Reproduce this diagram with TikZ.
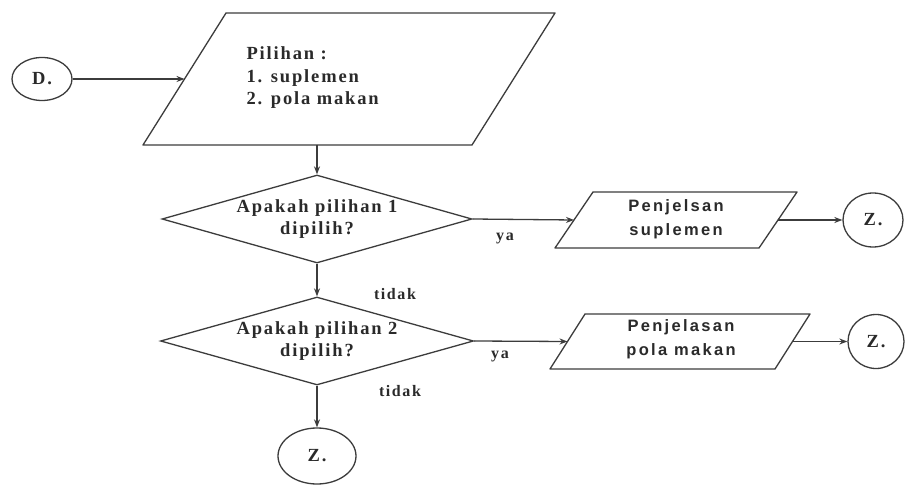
\documentclass[tikz,border=0pt]{standalone}
\usepackage{fontspec}
\setmainfont{Liberation Serif}
\setsansfont{Liberation Sans}
\newfontfamily\spsans[LetterSpace=14]{Liberation Sans}
\newfontfamily\spserif[LetterSpace=10]{Liberation Serif}
\usetikzlibrary{shapes.geometric,arrows.meta}
\definecolor{lc}{HTML}{3C3C3C}
\definecolor{tc}{HTML}{2A2A2A}
\begin{document}
\begin{tikzpicture}[x=1pt,y=-1pt,
  line/.style={draw=lc, line width=1.3pt},
  arr/.style={line, -{Stealth[length=8pt,width=6pt]}},
  decision/.style={line, shape=diamond, inner sep=0pt},
  term/.style={line, shape=ellipse, inner sep=0pt},
  serift/.style={text=tc, font=\spserif\bfseries\fontsize{18.5}{22.5}\selectfont},
  sanst/.style={text=tc, font=\spsans\bfseries\fontsize{16.5}{24}\selectfont},
  smallt/.style={text=tc, font=\spserif\bfseries\fontsize{16}{18}\selectfont}
]
\useasboundingbox[fill=white] (0,0) rectangle (907,489);

% start terminal
\node[term, minimum width=60pt, minimum height=43pt] (D) at (42,79) {};
\node[serift] (Dt) at (D) {D.};

% input parallelogram
\draw[line, line join=round] (143,145) -- (226,13) -- (555,13) -- (472,145) -- cycle;
\coordinate (P0in) at (184.5,79);
\coordinate (P0out) at (317,145);
\node[serift, align=left, anchor=west] (P0t) at (243,78) {Pilihan :\\1. suplemen\\2. pola makan};

% decisions
\node[decision, minimum width=310pt, minimum height=88pt] (d1) at (317,219) {};
\node[serift, align=center] (d1t) at (d1) {Apakah pilihan 1\\dipilih?};

\node[decision, minimum width=313pt, minimum height=88pt] (d2) at (317,341) {};
\node[serift, align=center] (d2t) at (d2) {Apakah pilihan 2\\dipilih?};

% output parallelograms
\draw[line, line join=round] (555,248) -- (593,192) -- (797,192) -- (759,248) -- cycle;
\coordinate (p1in) at (574,220);
\coordinate (p1out) at (778,220);
\node[sanst, align=center] (p1t) at (676,219) {Penjelsan\\suplemen};

\draw[line, line join=round] (550,369) -- (585,314) -- (810,314) -- (775,369) -- cycle;
\coordinate (p2in) at (567.5,341.5);
\coordinate (p2out) at (792.5,341.5);
\node[sanst, align=center] (p2t) at (681,339) {Penjelasan\\pola makan};

% end terminals
\node[term, minimum width=60pt, minimum height=54pt] (z1) at (873,220) {};
\node[serift] (z1t) at (z1) {Z.};
\node[term, minimum width=56pt, minimum height=54pt] (z2) at (876,341.5) {};
\node[serift] (z2t) at (z2) {Z.};
\node[term, minimum width=78pt, minimum height=56pt] (z3) at (317,456) {};
\node[serift] (z3t) at (z3) {Z.};

% labels
\node[smallt] (ya1) at (505,238) {ya};
\node[smallt] (ya2) at (500,356) {ya};
\node[smallt] (td1) at (395,294) {tidak};
\node[smallt] (td2) at (400,391) {tidak};

% connectors
\draw[arr] (D.east) -- (P0in);
\draw[arr] (P0out) -- (d1.north);
\draw[arr] (d1.south) -- (d2.north);
\draw[arr] (d1.east) -- (p1in);
\draw[arr] (p1out) -- (z1.west);
\draw[arr] (d2.east) -- (p2in);
\draw[arr] (p2out) -- (z2.west);
\draw[arr] (d2.south) -- (z3.north);
\end{tikzpicture}
\end{document}
